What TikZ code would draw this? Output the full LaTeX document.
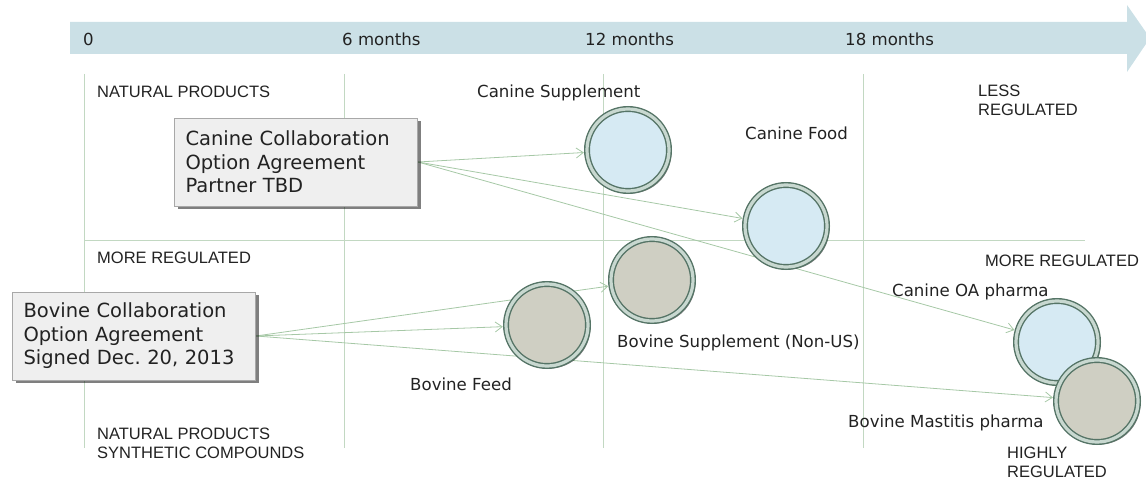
\documentclass[tikz,border=0pt]{standalone}
\usepackage{fontspec}
\setmainfont{DejaVu Sans}
\newfontfamily\capsfont{Liberation Sans}
\usetikzlibrary{arrows.meta,shadows}
\definecolor{barblue}{HTML}{CBE0E6}
\definecolor{gridgreen}{HTML}{C2D8C2}
\definecolor{linkgreen}{HTML}{A6C8A6}
\definecolor{ringdark}{HTML}{557466}
\definecolor{ringlight}{HTML}{C8D8D0}
\definecolor{caninefill}{HTML}{D6EAF3}
\definecolor{bovinefill}{HTML}{CFCFC3}
\definecolor{boxedge}{HTML}{A8A8A8}
\definecolor{boxfill}{HTML}{EFEFEF}
\definecolor{txt}{HTML}{222222}
\pgfdeclarelayer{bg}
\pgfsetlayers{bg,main}
\frenchspacing
\tikzset{
  gridline/.style={draw=gridgreen, line width=1pt},
  link/.style={draw=linkgreen, line width=0.8pt, shorten >=2.5pt,
    -{Straight Barb[length=7pt,width=10pt,line width=0.8pt]}},
  product/.style={circle, minimum size=82pt, inner sep=0pt, draw=ringdark,
    line width=1.4pt, double=ringlight, double distance=3.2pt,
    drop shadow={shadow xshift=2.5pt, shadow yshift=-2.5pt, opacity=.5, fill=black}},
  canine/.style={product, fill=caninefill},
  bovine/.style={product, fill=bovinefill},
  dealbox/.style={rectangle, draw=boxedge, line width=0.8pt, fill=boxfill,
    drop shadow={shadow xshift=3pt, shadow yshift=-3pt, opacity=.5, fill=black},
    font=\fontsize{19.5}{23.5}\selectfont, text=txt, align=left,
    text width=221pt, inner xsep=11pt, minimum height=88pt},
  lbl/.style={font=\fontsize{16.6}{19}\selectfont, text=txt, inner sep=0pt, anchor=base west},
  axislbl/.style={font=\capsfont\fontsize{16.5}{19}\selectfont, text=txt, inner sep=0pt,
    anchor=base west, align=left},
  barlbl/.style={font=\fontsize{16.6}{19}\selectfont, text=txt, inner sep=0pt, anchor=base west},
}
\begin{document}
\begin{tikzpicture}[x=1pt,y=-1pt]
\useasboundingbox (0,0) rectangle (1146,481);

% timeline arrow
\fill[barblue] (70,22) -- (1127,22) -- (1127,5) -- (1150,38) -- (1127,72) -- (1127,54) -- (70,54) -- cycle;
\node[barlbl] (t0)  at (83,46)  {0};
\node[barlbl] (t6)  at (342,46) {6 months};
\node[barlbl] (t12) at (585,46) {12 months};
\node[barlbl] (t18) at (845,46) {18 months};

% quadrant grid
\coordinate (v0a) at (84,74);   \coordinate (v0b) at (84,448);
\coordinate (v1a) at (344,74);  \coordinate (v1b) at (344,448);
\coordinate (v2a) at (603,74);  \coordinate (v2b) at (603,448);
\coordinate (v3a) at (863,74);  \coordinate (v3b) at (863,448);
\coordinate (hA) at (84,241);   \coordinate (hB) at (1085,241);

% axis labels (multi-line ones sit on the baseline of their last line)
\node[axislbl] (np)  at (97,98)   {NATURAL PRODUCTS};
\node[axislbl] (lr)  at (978,116) {LESS\\REGULATED};
\node[axislbl] (mrl) at (97,263)  {MORE REGULATED};
\node[axislbl] (mrr) at (985,266) {MORE REGULATED};
\node[axislbl] (ns)  at (97,458)  {NATURAL PRODUCTS\\SYNTHETIC COMPOUNDS};
\node[axislbl] (hr)  at (1007,477) {HIGHLY\\REGULATED};

% product circles
\node[canine] (csup)  at (628,150) {};
\node[canine] (cfood) at (786,226) {};
\node[bovine] (bsup)  at (652,280) {};
\node[bovine] (bfeed) at (547,325) {};
\node[canine] (coa)   at (1057,342) {};
\node[bovine] (bmast) at (1097,401) {};

% product labels
\node[lbl] (lcsup)  at (477,98)  {Canine Supplement};
\node[lbl] (lcfood) at (745,140) {Canine Food};
\node[lbl] (lbsup)  at (617,347) {Bovine Supplement (Non-US)};
\node[lbl] (lbfeed) at (410,390) {Bovine Feed};
\node[lbl] (lcoa)   at (892,296) {Canine OA pharma};
\node[lbl] (lbmast) at (848,427) {Bovine Mastitis pharma};

% agreements
\node[dealbox] (cbox) at (296,162) {Canine Collaboration\\Option Agreement\\Partner TBD};
\node[dealbox] (bbox) at (134,336) {Bovine Collaboration\\Option Agreement\\Signed Dec. 20, 2013};

\begin{pgfonlayer}{bg}
  \draw[gridline] (v0a) -- (v0b);
  \draw[gridline] (v1a) -- (v1b);
  \draw[gridline] (v2a) -- (v2b);
  \draw[gridline] (v3a) -- (v3b);
  \draw[gridline] (hA) -- (hB);
  \draw[link] (cbox.east) -- (csup);
  \draw[link] (cbox.east) -- (cfood);
  \draw[link] (cbox.east) -- (coa);
  \draw[link] (bbox.east) -- (bsup);
  \draw[link] (bbox.east) -- (bfeed);
  \draw[link] (bbox.east) -- (bmast);
\end{pgfonlayer}
\end{tikzpicture}
\end{document}
